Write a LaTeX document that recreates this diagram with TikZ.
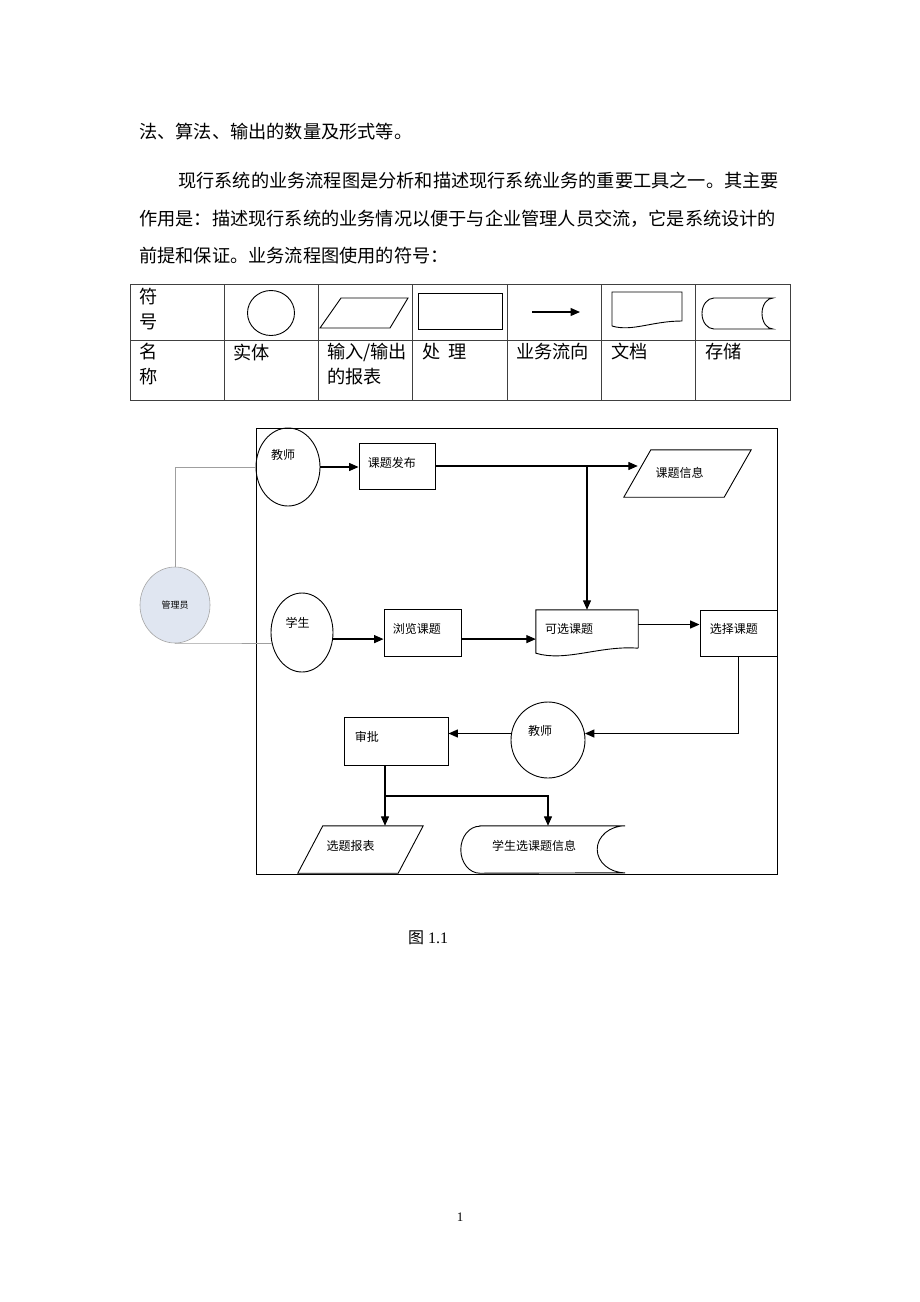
\documentclass[tikz,border=0pt]{standalone}
\usepackage{fontspec}
\setmainfont{Liberation Serif}
\newfontfamily\cjk{Noto Sans CJK SC}
\usetikzlibrary{arrows.meta,shapes.geometric}
\XeTeXlinebreaklocale "zh"
\XeTeXlinebreakskip=0pt plus 3pt
\definecolor{adminfill}{RGB}{224,230,241}
% parallelogram outline round a shell node
\newcommand{\slantbox}[2]{\draw[line width=0.9pt] ([xshift=#2]#1.north west) -- (#1.north east)
    -- ([xshift=-#2]#1.south east) -- (#1.south west) -- cycle;}

\begin{document}
\begin{tikzpicture}[x=1pt,y=-1pt,
    body/.style={anchor=west,inner sep=0pt,font=\cjk\fontsize{18.2}{22}\selectfont},
    chart/.style={inner sep=0pt,font=\cjk\fontsize{12}{14}\selectfont},
    entity/.style={draw,ellipse,line width=0.9pt,inner sep=0pt},
    proc/.style={draw,rectangle,line width=0.9pt,inner sep=0pt},
    shell/.style={rectangle,inner sep=0pt},
    flow/.style={-{Triangle[length=9.5pt,width=8pt]},line width=1.3pt},
    link/.style={gray!75,line width=0.6pt}]
    \useasboundingbox[fill=white] (0,0) rectangle (920,1302);

    % Text above the table
    \node[body] (l1) at (139,132) {法、算法、输出的数量及形式等。};
    \node[body] (l2) at (178,181) {\hbox to 603pt{现行系统的业务流程图是分析和描述现行系统业务的重要工具之一。其主要}};
    \node[body] (l3) at (139,219) {\hbox to 642pt{作用是：描述现行系统的业务情况以便于与企业管理人员交流，它是系统设计的}};
    \node[body] (l4) at (139,256) {前提和保证。业务流程图使用的符号：};

    % Symbol table
    \draw[black!75,line width=0.8pt] (130,284) rectangle (790,400);
    \draw[black!75,line width=0.8pt] (130,340) -- (790,340);
    \foreach \i in {1,...,6}
        \draw[black!75,line width=0.8pt] (130+\i*94.29,284) -- ++(0,116);
    \node[body] (t1) at (139,297) {符};
    \node[body] (t2) at (139,322) {号};
    \node[body] (n1) at (139,352) {名};
    \node[body] (n2) at (139,377) {称};
    \node[body] (n3) at (233,352) {实体};
    \node[body] (n4) at (327,352) {输入/输出};
    \node[body] (n5) at (327,377) {的报表};
    \node[body] (n6) at (422,352) {处\hspace{8pt}理};
    \node[body] (n7) at (516,352) {业务流向};
    \node[body] (n8) at (611,352) {文档};
    \node[body] (n9) at (705,352) {存储};
    \draw[line width=0.9pt] (271,313) ellipse [x radius=23.5pt,y radius=22.5pt];
    \draw[line width=0.9pt] (320,328) -- (341,298) -- (408,298) -- (390,328) -- cycle;
    \draw[line width=0.9pt] (418,293) rectangle (502,329);
    \draw[flow] (532,312) -- (580,312);
    \draw[line width=0.9pt] (612,326) -- (612,292) -- (682,292) -- (682,321)
        .. controls (652,321) and (632,332) .. (612,326);
    \draw[line width=0.9pt] (714,298) -- (773,298)
        arc[start angle=90,end angle=270,x radius=11pt,y radius=15.5pt]
        -- (714,329) arc[start angle=270,end angle=90,x radius=12pt,y radius=15.5pt] -- cycle;

    % Flow chart
    \draw[line width=0.9pt] (256,428) rectangle (777,874);
    \node[entity,minimum width=64pt,minimum height=78pt,
        label={[chart,xshift=-5pt,yshift=12pt]center:教师}] (tchA) at (288,467) {};
    \node[proc,minimum width=76pt,minimum height=46pt,
        label={[chart,anchor=west,xshift=9pt,yshift=3pt]west:课题发布}] (pub) at (397,466) {};
    \node[shell,minimum width=127pt,minimum height=47pt,
        label={[chart,xshift=-8pt,yshift=1pt]center:课题信息}] (info) at (687.5,473.5) {};
    \node[ellipse,draw=gray!70,fill=adminfill,line width=0.6pt,inner sep=0pt,
        minimum width=70pt,minimum height=76pt,
        font=\cjk\fontsize{9}{11}\selectfont] (admin) at (175,605) {管理员};
    \node[entity,minimum width=62pt,minimum height=79pt,
        label={[chart,xshift=-4.5pt,yshift=9.5pt]center:学生}] (stu) at (302,632.5) {};
    \node[proc,minimum width=77pt,minimum height=47pt,
        label={[chart,anchor=west,xshift=9pt,yshift=3.5pt]west:浏览课题}] (browse) at (422.5,632.5) {};
    \node[shell,minimum width=102pt,minimum height=43pt,
        label={[chart,anchor=west,xshift=9pt,yshift=2.5pt]west:可选课题}] (avail) at (587,631.5) {};
    \node[proc,minimum width=77pt,minimum height=46pt,
        label={[chart,anchor=west,xshift=10pt,yshift=4pt]west:选择课题}] (choose) at (738.5,633) {};
    \node[entity,minimum width=74pt,minimum height=76pt,
        label={[chart,xshift=-8pt,yshift=9pt]center:教师}] (tchB) at (548,740) {};
    \node[proc,minimum width=104pt,minimum height=48pt,
        label={[chart,anchor=west,xshift=11pt,yshift=4pt]west:审批}] (approve) at (396,741) {};
    \node[shell,minimum width=125pt,minimum height=47pt,
        label={[chart,xshift=-10pt,yshift=4pt]center:选题报表}] (report) at (360.5,849.5) {};
    \node[shell,minimum width=164pt,minimum height=47pt,
        label={[chart,xshift=-9pt,yshift=4pt]center:学生选课题信息}] (store) at (543,849.5) {};

    % parallelogram, document and storage outlines
    \slantbox{info}{27pt}
    \slantbox{report}{25pt}
    \draw[line width=0.9pt] ([yshift=5pt]avail.south east) -- (avail.north east)
        -- (avail.north west) -- (avail.south west)
        .. controls ([xshift=30pt,yshift=-9pt]avail.south west)
        and ([xshift=-38pt,yshift=8pt]avail.south east) .. ([yshift=5pt]avail.south east);
    \draw[line width=0.9pt] ([xshift=19pt]store.north west) -- (store.north east)
        arc[start angle=90,end angle=270,x radius=28pt,y radius=23.5pt]
        -- ([xshift=19pt]store.south west)
        arc[start angle=270,end angle=90,x radius=19pt,y radius=23.5pt] -- cycle;

    % connectors
    \draw[link] (admin.north) |- (tchA.west);
    \draw[link] (admin.south) -- (stu.200);
    \draw[flow] (tchA.east) -- (tchA.east -| pub.west);
    \coordinate (infoin) at ([xshift=14pt]info.west);
    \draw[flow] (pub.east) -- (pub.east -| infoin);
    \coordinate (j1) at (pub.east -| avail.north);
    \draw[flow] (j1) -- (avail.north);
    \draw[flow] (stu.-12) -- (stu.-12 -| browse.west);
    \draw[flow] (stu.-12 -| browse.east) -- (stu.-12 -| avail.west);
    \coordinate (k1) at ([yshift=7pt]avail.east);
    \draw[flow] (k1) -- (k1 -| choose.west);
    \draw[flow] (choose.south) |- (tchB.10);
    \draw[flow] (tchB.170) -- (tchB.170 -| approve.east);
    \coordinate (j2) at (385,796);
    \draw[line width=1.3pt] (j2 |- approve.south) -- (j2);
    \draw[flow] (j2) -- (j2 |- report.north);
    \draw[flow] (j2) -| ([xshift=5pt]store.north);

    % caption and page number
    \node[inner sep=0pt] (cap) at (428,938)
        {{\cjk\fontsize{16}{18}\selectfont 图}\fontsize{16}{18}\selectfont\ 1.1};
    \node[inner sep=0pt,font=\fontsize{13}{15}\selectfont] (pg) at (460,1217) {1};
\end{tikzpicture}
\end{document}
